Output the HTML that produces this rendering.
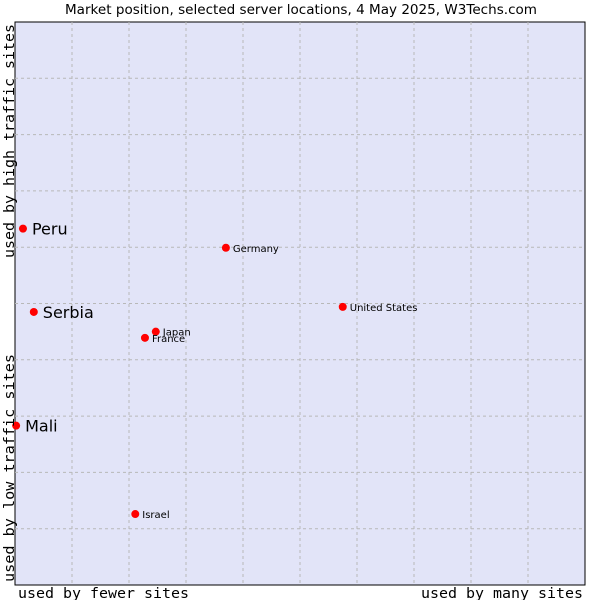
<!DOCTYPE html>
<html><head><meta charset="utf-8"><style>
body{margin:0;background:#fff;width:600px;height:600px;overflow:hidden}
svg{display:block}
</style></head><body>
<svg id="c" width="600" height="600" xmlns="http://www.w3.org/2000/svg">
<text x="65" y="14" textLength="472" lengthAdjust="spacingAndGlyphs" font-family="DejaVu Sans, sans-serif" font-size="13" fill="#000">Market position, selected server locations, 4 May 2025, W3Techs.com</text>
<rect x="15" y="22" width="570" height="563" fill="#e2e4f8" stroke="#000" stroke-width="1"/>
<g id="grid"></g>
<g id="pts"></g>
<text x="18" y="598" textLength="171" lengthAdjust="spacingAndGlyphs" font-family="DejaVu Sans Mono, Liberation Mono, monospace" font-size="14">used by fewer sites</text>
<text x="421" y="598" textLength="162" lengthAdjust="spacingAndGlyphs" font-family="DejaVu Sans Mono, Liberation Mono, monospace" font-size="14">used by many sites</text>
<text transform="translate(14,258) rotate(-90)" textLength="234" lengthAdjust="spacingAndGlyphs" font-family="DejaVu Sans Mono, Liberation Mono, monospace" font-size="14">used by high traffic sites</text>
<text transform="translate(14,582) rotate(-90)" textLength="228" lengthAdjust="spacingAndGlyphs" font-family="DejaVu Sans Mono, Liberation Mono, monospace" font-size="14">used by low traffic sites</text>
</svg>
<script>
const names=["Peru","Serbia","Mali","Germany","United States","Japan","France","Israel"];
const xVals=[1.4,3.3,0.2,37.0,57.5,24.7,22.8,21.1];
const yVals=[63.3,48.5,28.3,59.9,49.4,45.0,43.9,12.6];
const big=[true,true,true,false,false,false,false,false];
const L=15,R=585,T=22,B=585;
const sx=v=>L+v/100*(R-L), sy=v=>B-v/100*(B-T);
const ns="http://www.w3.org/2000/svg";
const g=document.getElementById('grid'), p=document.getElementById('pts');
for(let i=1;i<10;i++){
 let a=document.createElementNS(ns,'line');
 a.setAttribute('x1',sx(i*10));a.setAttribute('x2',sx(i*10));a.setAttribute('y1',T);a.setAttribute('y2',B);
 a.setAttribute('stroke','#b8b8b8');a.setAttribute('stroke-dasharray','3,3');
 
 
 g.appendChild(a);
 let b=document.createElementNS(ns,'line');
 b.setAttribute('y1',sy(i*10));b.setAttribute('y2',sy(i*10));b.setAttribute('x1',L);b.setAttribute('x2',R);
 b.setAttribute('stroke','#b8b8b8');b.setAttribute('stroke-dasharray','3,3');
 
 
 g.appendChild(b);
}
names.forEach((n,i)=>{
 const x=sx(xVals[i]),y=sy(yVals[i]);
 let c=document.createElementNS(ns,'circle');
 c.setAttribute('cx',x);c.setAttribute('cy',y);c.setAttribute('r',4);c.setAttribute('fill','#ff0000');
 
 
 p.appendChild(c);
 let t=document.createElementNS(ns,'text');
 t.setAttribute('x',x+(big[i]?9:7));t.setAttribute('y',y+(big[i]?6:4));
 t.setAttribute('font-family','DejaVu Sans, sans-serif');t.setAttribute('font-size',big[i]?16:10);
 t.textContent=n;
 
 
 p.appendChild(t);
});
</script>
</body></html>
